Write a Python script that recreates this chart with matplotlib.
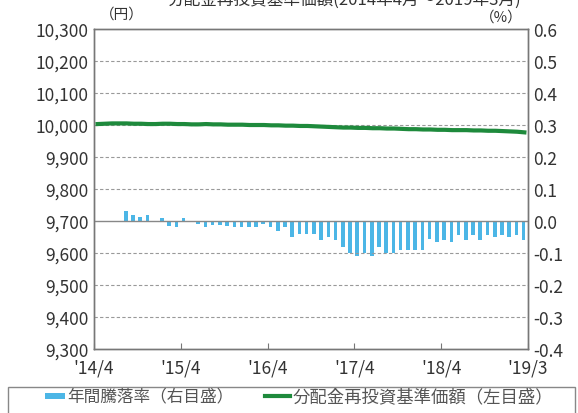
import numpy as np
import matplotlib
matplotlib.use("Agg")
from matplotlib import pyplot as plt
from matplotlib.patches import Rectangle
from matplotlib.lines import Line2D

plt.rcParams['font.family'] = ['Noto Sans CJK JP', 'DejaVu Sans']

# monthly data, 2014/4 .. 2019/3 (60 months)
months = np.arange(60)

# annual change rate (%), right axis
rate = [np.nan, np.nan, np.nan, np.nan,
        0.03, 0.02, 0.012, 0.02, 0.0, 0.01, -0.015, -0.02,
        0.01, 0.0, -0.01, -0.02, -0.012, -0.012, -0.015, -0.018,
        -0.02, -0.02, -0.02, -0.01, -0.02, -0.03, -0.02, -0.05,
        -0.04, -0.04, -0.04, -0.06, -0.05, -0.06, -0.08, -0.10,
        -0.11, -0.10, -0.11, -0.08, -0.10, -0.10, -0.09, -0.09,
        -0.09, -0.09, -0.055, -0.065, -0.06, -0.065, -0.045, -0.06,
        -0.045, -0.06, -0.045, -0.05, -0.045, -0.05, -0.045, -0.06]

# NAV with dividends reinvested (yen), left axis
nav = [10003, 10004, 10005, 10005, 10005, 10004, 10004, 10003, 10003, 10004,
       10004, 10003, 10003, 10002, 10002, 10003, 10002, 10002, 10001, 10001,
       10001, 10000, 10000, 10000, 9999, 9999, 9998, 9998, 9997, 9997,
       9996, 9995, 9994, 9993, 9992, 9992, 9991, 9991, 9990, 9990,
       9989, 9989, 9988, 9987, 9987, 9986, 9986, 9985, 9985, 9984,
       9984, 9984, 9983, 9983, 9982, 9982, 9981, 9980, 9979, 9977]

xtick_pos = [0, 12, 24, 36, 48, 60]
xtick_labels = ["'14/4", "'15/4", "'16/4", "'17/4", "'18/4", "'19/3"]
left_ticks = np.arange(9300, 10301, 100)
right_ticks = [-0.4, -0.3, -0.2, -0.1, 0.0, 0.1, 0.2, 0.3, 0.4, 0.5, 0.6]

bar_col = '#4cb6e6'
line_col = '#1e8a3c'
txt_col = '#333333'
grid_col = '#999999'

fig = plt.figure(figsize=(5.78, 4.14), dpi=100)
ax = fig.add_axes([0.1626, 0.1546, 0.7509, 0.7729])
ax2 = ax.twinx()

ax.set_xlim(0, 60)
ax.set_ylim(9300, 10300)
ax2.set_ylim(-0.4, 0.6)

# grid
for v in left_ticks[1:-1]:
    if v == 9700:
        ax.axhline(v, color='#888888', lw=1.0, zorder=1)
    else:
        ax.axhline(v, color=grid_col, lw=0.8, ls=(0, (3, 2)), zorder=1)

ax2.bar(months + 0.4, rate, width=0.5, color=bar_col, zorder=2)
ax.plot(months + 0.5, nav, color=line_col, lw=3, zorder=3)
ax.set_zorder(ax2.get_zorder() + 1)
ax.patch.set_visible(False)

ax.set_yticks(left_ticks)
ax.set_yticklabels([f'{v:,}' for v in left_ticks])
ax2.set_yticks(right_ticks)
ax2.set_yticklabels(['0.0' if v == 0 else f'{v:.1f}' for v in right_ticks])
ax.set_xticks(xtick_pos)
ax.set_xticklabels(xtick_labels)

for a in (ax, ax2):
    for s in a.spines.values():
        s.set_color('#777777')
        s.set_linewidth(1.0)
ax.tick_params(axis='y', length=0, pad=4, labelsize=12.5, labelcolor=txt_col)
ax2.tick_params(axis='y', length=0, pad=4, labelsize=12.5, labelcolor=txt_col)
ax.tick_params(axis='x', direction='in', length=4, color='#777777',
               pad=7, labelsize=12.5, labelcolor=txt_col)
ax2.tick_params(axis='x', length=0)

fig.text(0.172, 0.948, '（円）', fontsize=10.5, color=txt_col, ha='left', va='bottom')
fig.text(0.905, 0.94, '（%）', fontsize=10.5, color=txt_col, ha='right', va='bottom')
fig.text(0.29, 1.0, '分配金再投資基準価額(2014年4月～2019年3月)', fontsize=12,
         color=txt_col, ha='left', va='center')

# legend box
fig.patches.append(Rectangle((0.014, -0.05), 0.98, 0.114, transform=fig.transFigure,
                             fill=False, edgecolor='#888888', lw=1.0))
fig.patches.append(Rectangle((0.078, 0.033), 0.035, 0.016, transform=fig.transFigure,
                             facecolor=bar_col, edgecolor='none'))
fig.text(0.117, 0.041, '年間騰落率（右目盛）', fontsize=12, color='#555555', va='center')
fig.lines.append(Line2D([0.458, 0.502], [0.041, 0.041], transform=fig.transFigure,
                        color=line_col, lw=3))
fig.text(0.506, 0.041, '分配金再投資基準価額（左目盛）', fontsize=12.5, color='#555555', va='center')

plt.savefig('out.png', dpi=100)
